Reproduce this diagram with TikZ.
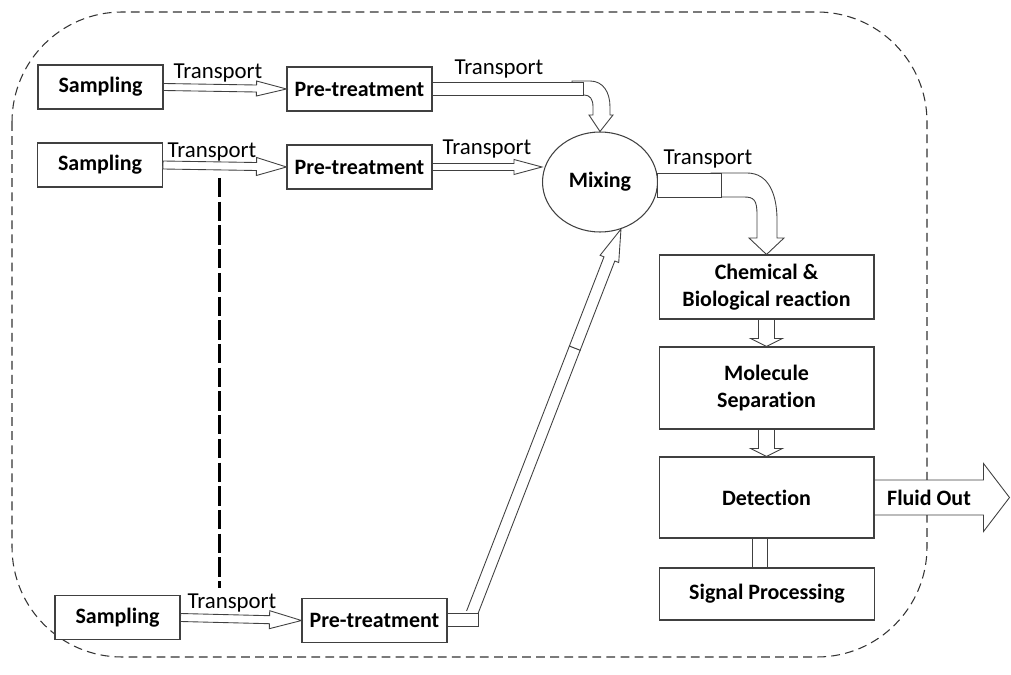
\documentclass[tikz,border=0pt]{standalone}
\usepackage{fontspec}
\setmainfont{Carlito}[Ligatures=NoCommon]
\usetikzlibrary{calc,shapes.geometric}
\colorlet{stroke}{black!75}
\newcommand{\boxfont}{\fontsize{12.5}{15}\selectfont\bfseries}
% start, end, shaft half width, head half width, head length
\newcommand{\hollowarrow}[5]{%
  \path ($(#2)!#5!(#1)$) coordinate (hb);
  \draw[pipe] ($(#1)!#3!90:(#2)$) -- ($(hb)!#3!-90:(#1)$) -- ($(hb)!#4!-90:(#1)$)
    -- (#2) -- ($(hb)!#4!90:(#1)$) -- ($(hb)!#3!90:(#1)$) -- ($(#1)!#3!-90:(#2)$) -- cycle;
}

\begin{document}
\begin{tikzpicture}[x=0.02cm,y=-0.02cm,
    any/.style={draw=stroke,fill=white,line width=0.6pt,font=\boxfont,%
                align=center,inner sep=0pt},
    sample/.style={any,minimum width=2.5cm,minimum height=0.88cm},
    treat/.style={any,minimum width=2.9cm,minimum height=0.88cm},
    stage/.style={any,minimum width=4.3cm},
    tag/.style={font=\fontsize{13}{15}\selectfont,inner sep=0pt},
    pipe/.style={draw=stroke,fill=white,line width=0.5pt},
    border/.style={draw=black!80,dash pattern=on 5pt off 3pt,line width=0.6pt,%
                   rounded corners=2.2cm},
    divider/.style={draw=black,line width=1.5pt,dash pattern=on 11pt off 2.5pt}
]
\useasboundingbox (0,0) rectangle (1011,675);

\draw[border] (12,12) rectangle (927,657);

\node[sample] (S1) at (100.5,87) {Sampling};
\node[treat] (P1) at (359.5,89) {Pre-treatment};
\node[sample] (S2) at (100,165) {Sampling};
\node[treat] (P2) at (359.5,167) {Pre-treatment};
\node[sample] (S3) at (117.5,617.5) {Sampling};
\node[treat] (P3) at (374.5,620.5) {Pre-treatment};
\node[any,ellipse,minimum width=2.3cm,minimum height=2cm] (Mix) at (600,182) {Mixing};
\node[stage,minimum height=1.28cm] (Chem) at (766.5,287) {Chemical \&\\Biological reaction};
\node[stage,minimum height=1.64cm] (Mol) at (766.5,388) {Molecule\\Separation};
\node[stage,minimum height=1.62cm] (Det) at (766.5,497.5) {Detection};
\node[stage,minimum height=1.04cm] (Sig) at (767,594) {Signal Processing};

\node[tag] (t1) at (218,73) {Transport};
\node[tag] (t2) at (212,152) {Transport};
\node[tag] (t3) at (232,603) {Transport};
\node[tag] (t4) at (487,149) {Transport};
\node[tag] (t5) at (499,69) {Transport};
\node[tag] (t6) at (708,159) {Transport};

\hollowarrow{S1.east}{P1.west}{0.07cm}{0.15cm}{0.6cm}
\hollowarrow{S2.east}{P2.west}{0.08cm}{0.18cm}{0.6cm}
\hollowarrow{S3.east}{P3.west}{0.08cm}{0.18cm}{0.64cm}
\hollowarrow{P2.east}{P2.east -| Mix.west}{0.07cm}{0.15cm}{0.56cm}
\hollowarrow{Chem.south}{Mol.north}{0.16cm}{0.32cm}{0.16cm}
\hollowarrow{Mol.south}{Det.north}{0.16cm}{0.32cm}{0.16cm}

% top pipe bending down into the mixer
\coordinate (jA) at ($(P1.east -| Mix.north)+(-17,0)$);
\begin{scope}[shift={(jA)}]
\draw[pipe] (-11,-8) -- (7,-8) .. controls (20,-8) and (27,3) .. (27,18) -- (27,26)
  -- (30,26) -- (Mix.north) -- (6,26) -- (10,26) -- (10,18)
  .. controls (10,10) and (7,6) .. (1,6) -- (-11,6) -- cycle;
\end{scope}
\draw[pipe] ($(P1.east)+(0,-6.5)$) rectangle ($(jA)+(0,6.5)$);

% mixer outlet bending down to the reaction stage
\coordinate (jB) at ($(Mix.east)+(63,3)$);
\begin{scope}[shift={(jB)}]
\draw[pipe] (-10,-12) -- (26,-12) .. controls (48,-12) and (56,10) .. (56,35) -- (56,53)
  -- (63,53) -- (Chem.north) -- (28,53) -- (36,53) -- (36,30)
  .. controls (36,15) and (33,12) .. (23,12) -- (-10,12) -- cycle;
\end{scope}
\draw[pipe] ($(Mix.east)+(-1,-9)$) rectangle ($(jB)+(0,12)$);

% third line up to the mixer
\coordinate (q0) at ($(P3.east)+(24.5,-7.5)$);
\coordinate (q1) at ($(q0)!0.69!(Mix.294)$);
\draw[pipe] ($(q0)!0.116cm!90:(q1)$) -- ($(q1)!0.116cm!-90:(q0)$)
  -- ($(q1)!0.116cm!90:(q0)$) -- ($(q0)!0.116cm!-90:(q1)$);
\draw[pipe] ($(P3.east)+(0,-7.5)$) rectangle ($(P3.east)+(31,5.5)$);
\hollowarrow{q1}{Mix.294}{0.116cm}{0.2cm}{0.64cm}

\draw[pipe] ($(Det.south)+(-14.5,0)$) rectangle (Sig.north);

\coordinate (out) at ($(Det.east)+(135,0)$);
\hollowarrow{Det.east}{out}{0.35cm}{0.68cm}{0.52cm}
\node[tag,font=\boxfont] (fl) at (929,498) {Fluid Out};

\coordinate (d1) at ($(S2.east)!0.46!(P2.west)+(0,12)$);
\draw[divider] (d1) -- ($(d1 |- t3.north)+(0,-5)$);
\end{tikzpicture}
\end{document}
